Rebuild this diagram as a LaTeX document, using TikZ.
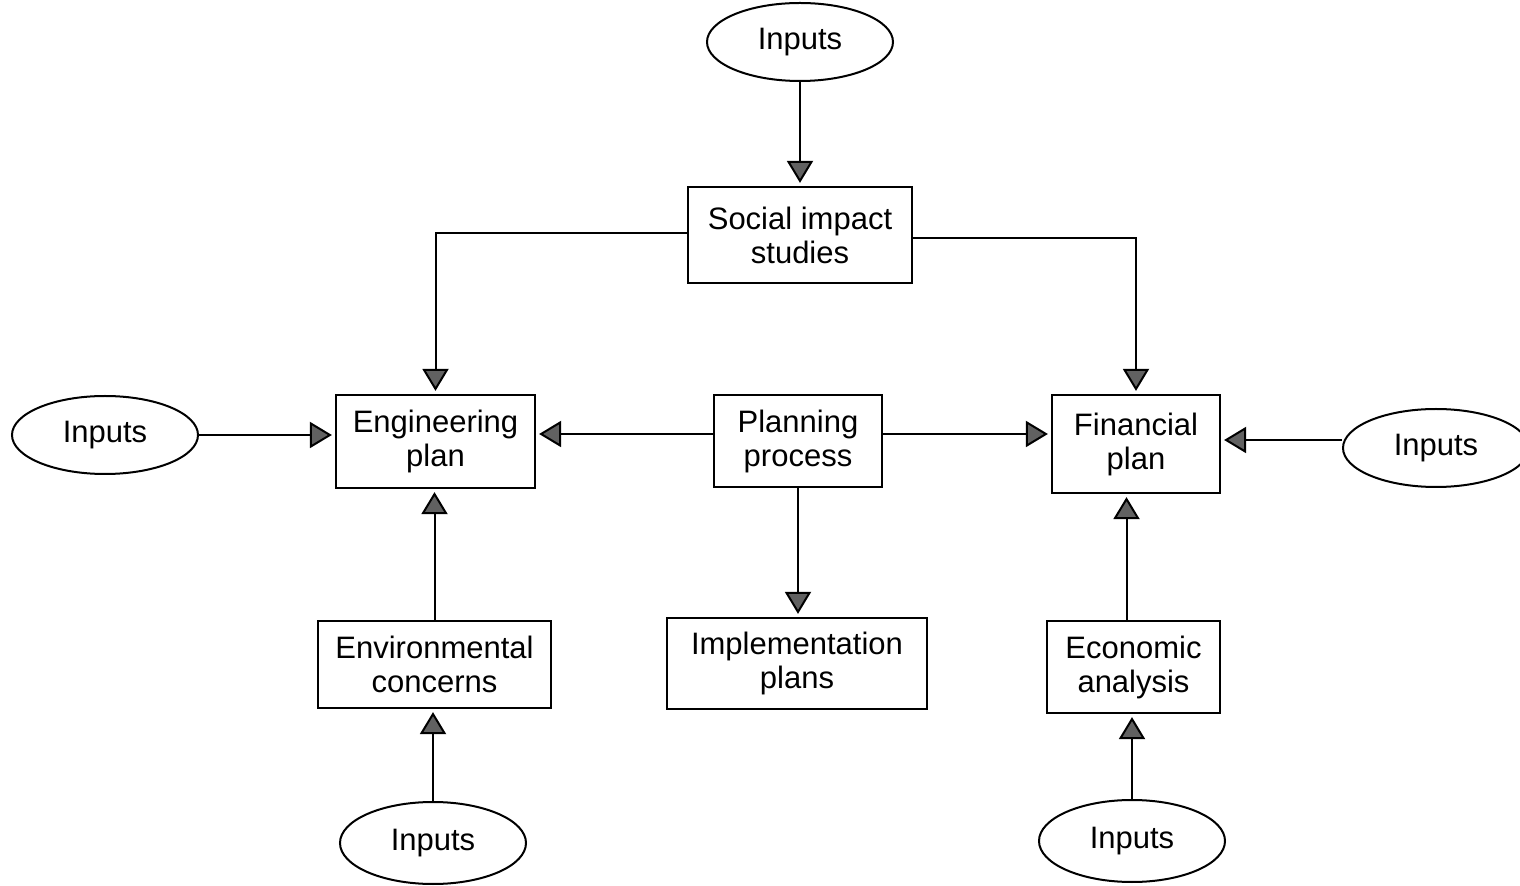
\documentclass[tikz,border=0pt]{standalone}
\usepackage{fontspec}
\setmainfont{Liberation Sans}
\usetikzlibrary{shapes.geometric,arrows.meta}
\begin{document}
\begin{tikzpicture}[x=0.5pt,y=-0.5pt,
  every node/.style={font=\fontsize{15.5pt}{17pt}\selectfont},
  box/.style={draw,line width=1.1pt,rectangle,align=center,inner sep=0pt},
  inp/.style={draw,line width=1pt,ellipse,inner sep=0pt,minimum width=93pt,minimum height=39pt},
  flow/.style={line width=1pt,-{Triangle[length=11pt,width=13pt,fill=black!62]},shorten >=1.5pt}]
\useasboundingbox (0,0) rectangle (1520,886);

% input ellipses
\node[inp] (inTop) at (800,42) {Inputs};
\node[inp] (inLeft) at (105,435) {Inputs};
\node[inp] (inRight) at (1436,448) {Inputs};
\node[inp,minimum height=41pt] (inEnv) at (433,843) {Inputs};
\node[inp,minimum height=41pt] (inEco) at (1132,841) {Inputs};

% process boxes
\node[box,minimum width=112pt,minimum height=48pt] (soc) at (800,235) {Social impact\\studies};
\node[box,minimum width=99.5pt,minimum height=46.5pt] (eng) at (435.5,441.5) {Engineering\\plan};
\node[box,minimum width=84pt,minimum height=46pt] (pla) at (798,441) {Planning\\process};
\node[box,minimum width=84pt,minimum height=49pt] (fin) at (1136,444) {Financial\\plan};
\node[box,minimum width=116.5pt,minimum height=43.5pt] (env) at (434.5,664.5) {Environmental\\concerns};
\node[box,minimum width=130pt,minimum height=45.5pt] (imp) at (797,663.5) {Implementation\\plans};
\node[box,minimum width=86.5pt,minimum height=46pt] (eco) at (1133.5,667) {Economic\\analysis};

% connectors
\draw[flow] (inTop.south) -- (inTop.south |- soc.north);
\draw[flow] ([yshift=1pt]soc.west) -| (eng.north);
\draw[flow] ([yshift=-1.5pt]soc.east) -| (fin.north);
\draw[flow] (inLeft.east) -- (inLeft.east -| eng.west);
\draw[flow] ([yshift=3.5pt]pla.west) -- ([yshift=3.5pt]pla.west -| eng.east);
\draw[flow] ([yshift=3.5pt]pla.east) -- ([yshift=3.5pt]pla.east -| fin.west);
\draw[flow] ([yshift=4pt]inRight.west) -- ([yshift=4pt]inRight.west -| fin.east);
\draw[flow] (pla.south) -- (pla.south |- imp.north);
\draw[flow] (env.north) -- (env.north |- eng.south);
\draw[flow] (inEnv.north) -- (inEnv.north |- env.south);
\draw[flow] ([xshift=-3.5pt]eco.north) -- ([xshift=-3.5pt]eco.north |- fin.south);
\draw[flow] (inEco.north) -- (inEco.north |- eco.south);
\end{tikzpicture}
\end{document}
